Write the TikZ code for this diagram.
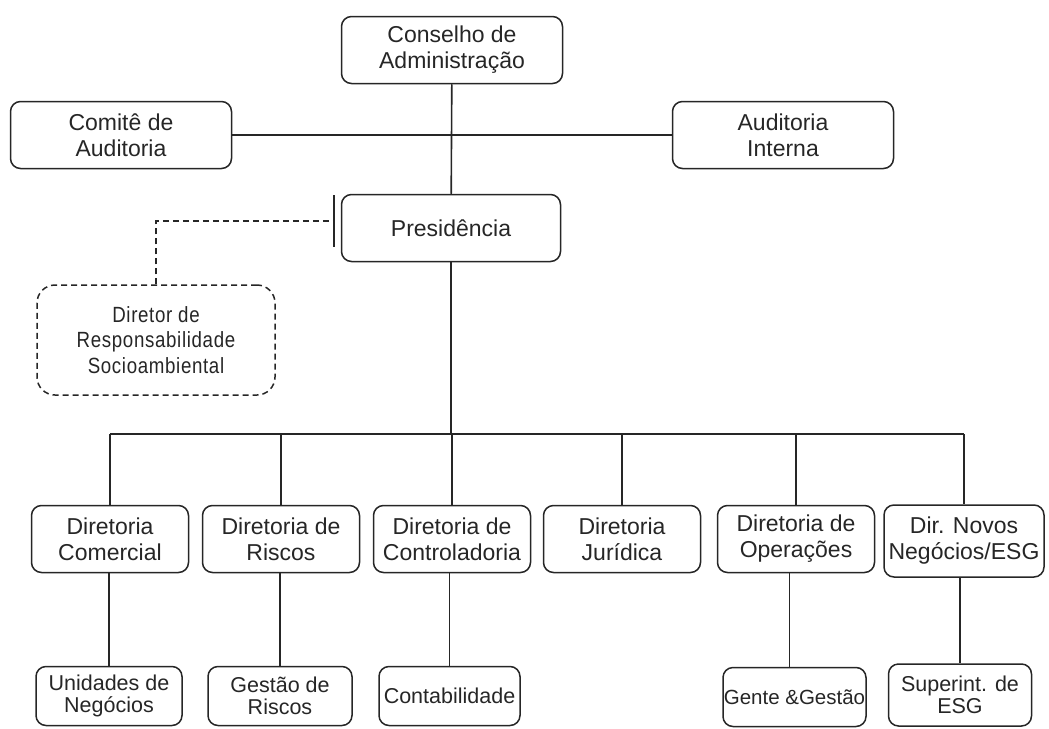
\documentclass[tikz,border=0pt]{standalone}
\usepackage{fontspec}
\setmainfont{Liberation Sans}
\newfontfamily\schmalschrift[FakeStretch=0.85,LetterSpace=3]{Liberation Sans}
\usepackage{tikz}
\usetikzlibrary{arrows.meta,calc}
\tikzset{
  kasten/.style={draw=black!85,text=black!85,line width=1.5pt,rounded corners=10pt,align=center,inner sep=0pt,
    minimum height=67pt,font=\fontsize{23}{26}\selectfont},
  oben/.style={kasten,minimum width=221pt},
  mitte/.style={kasten,minimum width=157pt},
  unten/.style={kasten,minimum width=146pt,minimum height=59pt,font=\fontsize{21.5}{22}\selectfont},
  gestrichelt/.style={kasten,dash pattern=on 6pt off 4pt,rounded corners=18pt,minimum width=238pt,minimum height=110pt,
    font=\schmalschrift\fontsize{22}{25.5}\selectfont},
  linie/.style={draw=black!85,line width=1.6pt}
}
\begin{document}
\begin{tikzpicture}[x=1pt,y=-1pt]
\useasboundingbox (0,0) rectangle (1049,728);
%Hoehen der Ebenen (in px vom oberen Rand)
  \pgfmathsetmacro{\yEins}{135}
  \pgfmathsetmacro{\yZwei}{539}
  \pgfmathsetmacro{\yDrei}{696}
  \pgfmathsetmacro{\yBus}{434}
%Obere Ebene
\node[oben] (cons) at (452,50) {Conselho de\\Administração};
\node[oben] (comite) at (121,\yEins) {Comitê de\\Auditoria};
\node[oben] (audit) at (783,\yEins) {Auditoria\\Interna};
\node[oben,minimum width=219pt] (pres) at (451,228) {Presidência};
\node[gestrichelt] (dir) at (156,340) {Diretor de\\Responsabilidade\\Socioambiental};
\draw[linie] (cons) -- (pres);
\draw[linie] (comite) -- (audit);
\draw[linie,dash pattern=on 6pt off 4pt,-{Bar[width=52pt,line width=1.5pt]}] (dir.north) |- ([xshift=-6pt,yshift=7pt]pres.west);
%Diretorias
\foreach \x/\n/\t in {110/dcom/{Diretoria\\Comercial},281/drisc/{Diretoria de\\Riscos},452/dcont/{Diretoria de\\Controladoria},622/djur/{Diretoria\\Jurídica},796/dop/{Diretoria de\\Operações}}{
\node[mitte] (\n) at (\x,\yZwei) {\t};
}
\node[mitte,minimum width=160pt,minimum height=72pt] (dnov) at (964,541) {Dir. Novos\\Negócios/ESG};
\coordinate (bus) at (451,\yBus);
\draw[linie] (pres.south) -- (bus);
\draw[linie] (dcom.north |- bus) -- (dnov.north |- bus);
\foreach \n in {dcom,drisc,dcont,djur,dop,dnov}{
\draw[linie] (\n.north |- bus) -- (\n.north);
}
%Untere Ebene
\node[unten] (uneg) at (109,\yDrei) {Unidades de\\Negócios};
\node[unten,minimum width=144pt] (gris) at (280,\yDrei) {Gestão de\\Riscos};
\node[unten,minimum width=141pt] (contab) at (449.5,\yDrei) {Contabilidade};
\node[unten,minimum width=143pt,font=\fontsize{20.5}{22}\selectfont] (gente) at (794.5,697) {Gente \&Gestão};
\node[unten,minimum width=143pt,minimum height=62pt] (superint) at (960,695) {Superint. de\\ESG};
\draw[linie] (uneg.north |- dcom.south) -- (uneg.north);
\draw[linie] (gris.north |- drisc.south) -- (gris.north);
\draw[linie] (contab.north |- dcont.south) -- (contab.north);
\draw[linie] ([xshift=-5pt]gente.north |- dop.south) -- ([xshift=-5pt]gente.north);
\draw[linie] (superint.north |- dnov.south) -- (superint.north);
\end{tikzpicture}
\end{document}
